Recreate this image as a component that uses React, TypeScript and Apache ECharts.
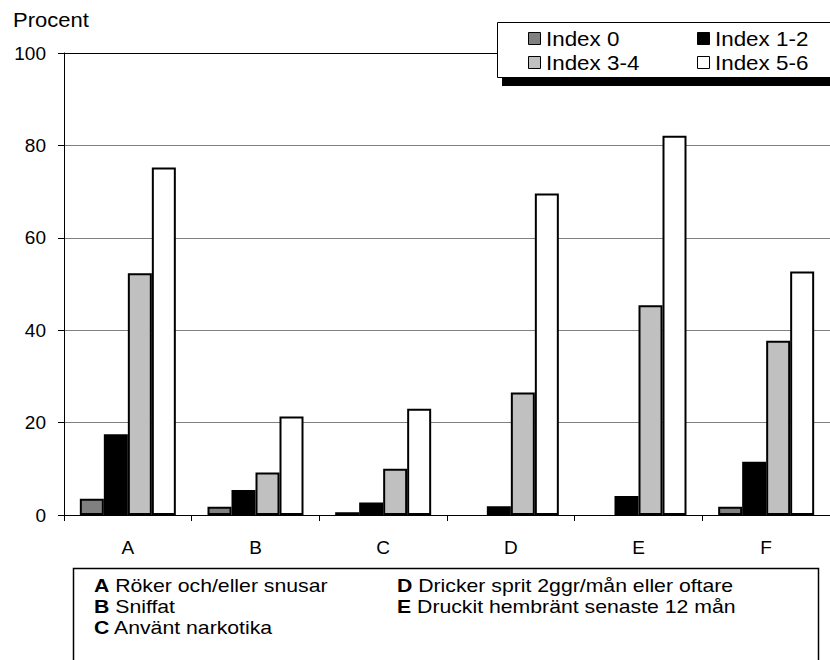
import React, { useEffect, useRef } from "react";
import * as echarts from "echarts";

const categories = ["A", "B", "C", "D", "E", "F"];
const seriesNames = ["Index 0", "Index 1-2", "Index 3-4", "Index 5-6"];
const index0 = [3.5, 1.8, 0.6, null, null, 1.8];
const index12 = [17.5, 5.4, 2.7, 1.9, 4.1, 11.5];
const index34 = [52.3, 9.2, 10.0, 26.5, 45.4, 37.7];
const index56 = [75.2, 21.3, 23.0, 69.6, 82.1, 52.7];
const seriesColors = ["#808080", "#000000", "#c0c0c0", "#ffffff"];
const yTicks = [0, 20, 40, 60, 80, 100];
const notes = [
  ["A", "Röker och/eller snusar"],
  ["B", "Sniffat"],
  ["C", "Använt narkotika"],
  ["D", "Dricker sprit 2ggr/mån eller oftare"],
  ["E", "Druckit hembränt senaste 12 mån"],
];

const FONT = "Liberation Sans, Arial, Helvetica, sans-serif";

export default function App() {
  const ref = useRef<HTMLDivElement>(null);
  useEffect(() => {
    if (!ref.current) return;
    const chart = echarts.init(ref.current, null, { renderer: "svg" });
    const data = [index0, index12, index34, index56];

    const legendItems: any[] = [];
    const legendPos = [
      [528, 32],
      [697, 32],
      [528, 56],
      [697, 56],
    ];
    seriesNames.forEach((n, i) => {
      const [x, y] = legendPos[i];
      legendItems.push({
        type: "rect",
        shape: { x: x + 0.5, y: y + 0.5, width: 12, height: 12 },
        style: { fill: seriesColors[i], stroke: "#000", lineWidth: 1 },
        z: 101,
      });
      legendItems.push({
        type: "text",
        x: x + 18,
        y: y + 7,
        scaleX: 1.12,
        style: {
          text: n,
          fill: "#000",
          font: `20px ${FONT}`,
          textVerticalAlign: "middle",
        },
        z: 101,
      });
    });

    const noteItems: any[] = notes.map((n, i) => {
      const col = i < 3 ? 0 : 1;
      const row = i < 3 ? i : i - 3;
      return {
        type: "text",
        x: col === 0 ? 94 : 397,
        y: 586 + row * 21,
        scaleX: 1.18,
        style: {
          text: `{b|${n[0]}} ${n[1]}`,
          fill: "#000",
          font: `18px ${FONT}`,
          textVerticalAlign: "middle",
          rich: {
            b: { fontWeight: "bold", fontSize: 18, fontFamily: FONT, fill: "#000" },
          },
        },
        z: 101,
      };
    });

    chart.setOption({
      animation: false,
      backgroundColor: "#fff",
      grid: { left: 64, top: 53, right: -8, bottom: 145, containLabel: false },
      xAxis: {
        type: "category",
        data: categories,
        axisLine: { show: true, lineStyle: { color: "#000", width: 1 } },
        axisTick: { show: true, length: 6, lineStyle: { color: "#000" } },
        axisLabel: { color: "#000", fontSize: 19, fontFamily: FONT, margin: 23 },
        splitLine: { show: false },
      },
      yAxis: {
        type: "value",
        min: 0,
        max: 100,
        interval: 20,
        axisLine: { show: true, lineStyle: { color: "#000", width: 1 } },
        axisTick: { show: true, length: 6, lineStyle: { color: "#000" } },
        axisLabel: {
          color: "#000",
          fontSize: 19,
          fontFamily: FONT,
          margin: 18,
          formatter: (v: number) => (yTicks.includes(v) ? String(v) : ""),
        },
        splitLine: {
          show: true,
          lineStyle: {
            color: ["#808080", "#808080", "#808080", "#808080", "#808080", "#000"],
            width: 1,
          },
        },
      },
      series: seriesNames.map((name, i) => ({
        name,
        type: "bar",
        data: data[i],
        barWidth: 24,
        barGap: "0%",
        itemStyle: { color: seriesColors[i], borderColor: "#000", borderWidth: 2 },
      })),
      graphic: [
        {
          type: "text",
          x: 13,
          y: 20,
          scaleX: 1.1,
          style: {
            text: "Procent",
            fill: "#000",
            font: `20px ${FONT}`,
            textVerticalAlign: "middle",
          },
        },
        {
          type: "rect",
          shape: { x: 502, y: 78, width: 340, height: 8 },
          style: { fill: "#000" },
          z: 99,
        },
        {
          type: "rect",
          shape: { x: 497.5, y: 22.5, width: 340, height: 55 },
          style: { fill: "#fff", stroke: "#000", lineWidth: 1 },
          z: 100,
        },
        ...legendItems,
        {
          type: "rect",
          shape: { x: 73.5, y: 568.5, width: 745, height: 120 },
          style: { fill: "#fff", stroke: "#000", lineWidth: 1.5 },
          z: 100,
        },
        ...noteItems,
      ],
    });
    return () => chart.dispose();
  }, []);
  return (
    <div
      ref={ref}
      style={{ position: "fixed", left: 0, top: 0, width: 830, height: 660 }}
    />
  );
}
